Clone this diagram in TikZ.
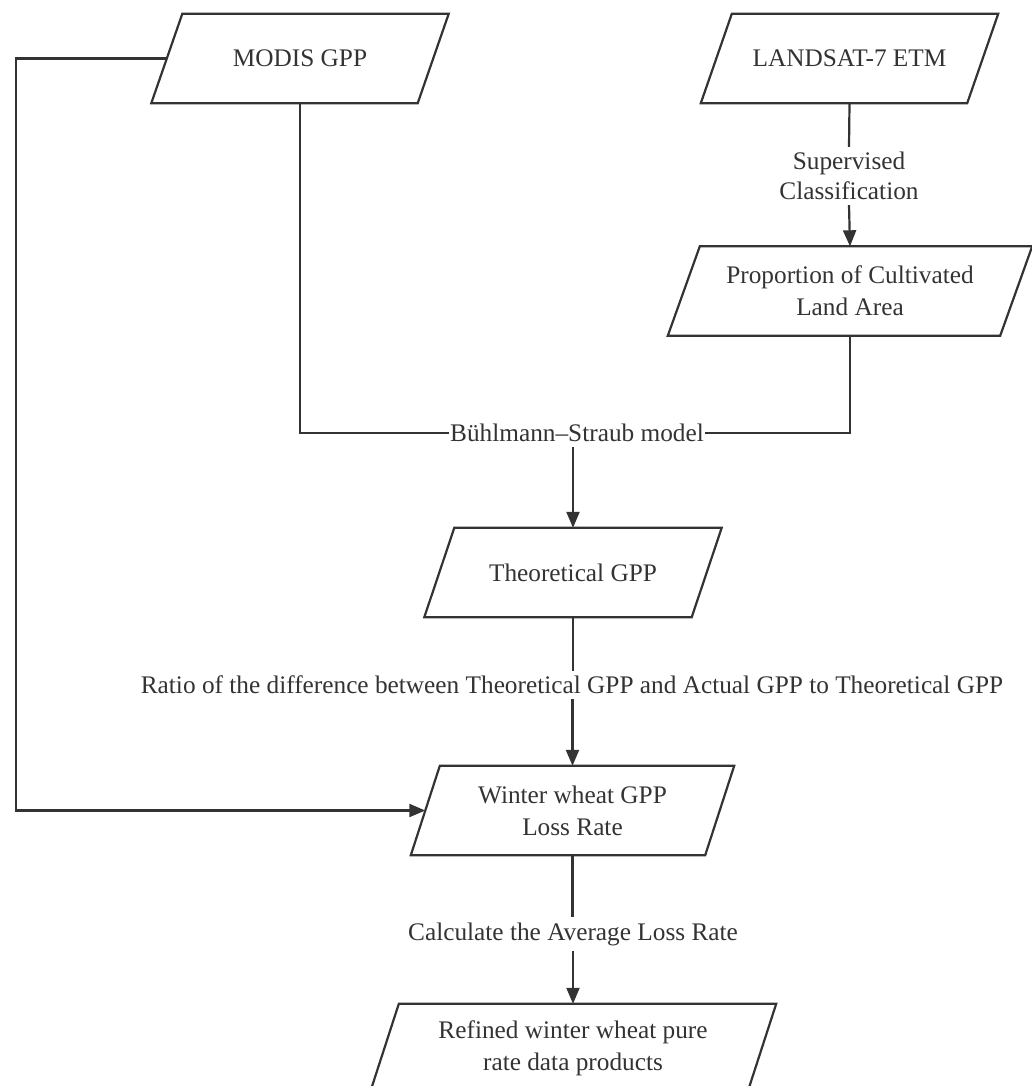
\documentclass[tikz,border=0pt]{standalone}
\usepackage{fontspec}
\setmainfont{Liberation Serif}
\usetikzlibrary{arrows.meta,calc}
\definecolor{ink}{HTML}{333333}
\pgfdeclarelayer{bg}
\pgfsetlayers{bg,main}
\newcommand\paraframe[2]{%
  \draw[edge] ($(#1.north west)+(#2/2,0)$) -- ($(#1.north east)+(#2/2,0)$)
    -- ($(#1.south east)-(#2/2,0)$) -- ($(#1.south west)-(#2/2,0)$) -- cycle;}
\begin{document}
\begin{tikzpicture}[x=1pt,y=-1pt,
  edge/.style={draw=ink,line width=2.2pt,line join=miter},
  arrowline/.style={edge,-{Triangle[length=16pt,width=13pt]}},
  box/.style={inner sep=0pt,minimum height=89pt,text=ink,align=center,
    font=\fontsize{25.3}{32}\selectfont},
  lbl/.style={fill=white,inner xsep=2pt,inner ysep=5pt,text=ink,align=center,
    font=\fontsize{25.3}{30}\selectfont}]
\path[use as bounding box,clip] (0,0) rectangle (1032,1086);
% boxes
\node[box,minimum width=266pt] (modis) at (300,58.5) {MODIS GPP};
\node[box,minimum width=266pt] (landsat) at (849.5,58.5) {LANDSAT-7 ETM};
\node[box,minimum width=332pt] (prop) at (850,291) {Proportion of Cultivated\\Land Area};
\node[box,minimum width=267pt] (theo) at (573,572.5) {Theoretical GPP};
\node[box,minimum width=294pt] (wheat) at (572.5,810.5) {Winter wheat GPP\\Loss Rate};
\node[box,minimum width=377pt] (refined) at (573,1048.5) {Refined winter wheat pure\\rate data products};
\paraframe{modis}{31}
\paraframe{landsat}{31}
\paraframe{prop}{32}
\paraframe{theo}{30}
\paraframe{wheat}{29}
\paraframe{refined}{29}
% labels
\node[lbl] (sup) at (849,176) {Supervised\\Classification};
\node[lbl,inner xsep=1pt] (bs) at (577,433) {Bühlmann–Straub model};
\node[lbl] (ratio) at (572,685) {Ratio of the difference between Theoretical GPP and Actual GPP to Theoretical GPP};
\node[lbl] (avg) at (573,934) {Calculate the Average Loss Rate};
% connectors
\begin{pgfonlayer}{bg}
\draw[edge] (landsat.south) -- (sup.north);
\draw[arrowline] (sup.south) -- (prop.north);
\draw[edge] (modis.south) |- (bs.west);
\draw[edge] (prop.south) |- (bs.east);
\draw[arrowline] (bs.south -| theo.north) -- (theo.north);
\draw[edge] (theo.south) -- (ratio.north -| theo.south);
\draw[arrowline] (ratio.south -| wheat.north) -- (wheat.north);
\draw[arrowline] (modis.west) -- ++(-151,0) |- (wheat.west);
\draw[edge] (wheat.south) -- (avg.north -| wheat.south);
\draw[arrowline] (avg.south -| refined.north) -- (refined.north);
\end{pgfonlayer}
\end{tikzpicture}
\end{document}
